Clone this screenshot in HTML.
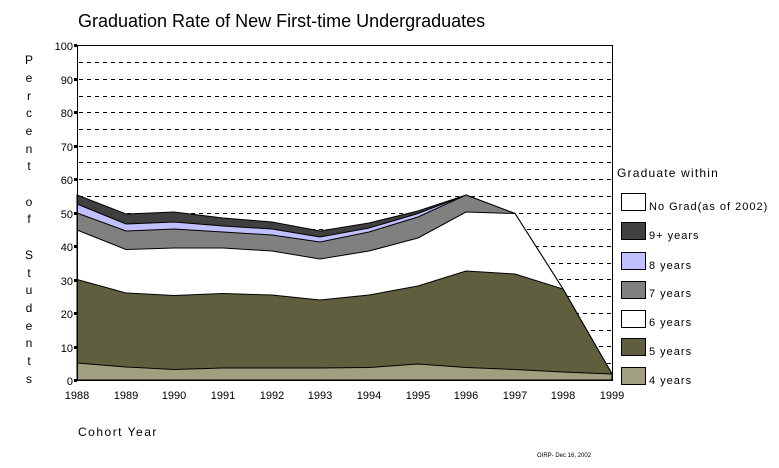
<!DOCTYPE html>
<html><head><meta charset="utf-8"><style>
body{margin:0;background:#fff;}
svg{display:block;font-family:"Liberation Sans",sans-serif;}
</style></head><body>
<svg width="779" height="468" viewBox="0 0 779 468" xmlns="http://www.w3.org/2000/svg">
<rect width="779" height="468" fill="#fff"/>
<text x="78" y="27" font-size="18">Graduation Rate of New First-time Undergraduates</text>
<!-- gridlines -->
<g stroke="#000" stroke-width="1" stroke-dasharray="4,4">
<line x1="79" x2="611" y1="62.5" y2="62.5"/><line x1="79" x2="611" y1="79.5" y2="79.5"/>
<line x1="79" x2="611" y1="96.5" y2="96.5"/><line x1="79" x2="611" y1="112.5" y2="112.5"/>
<line x1="79" x2="611" y1="129.5" y2="129.5"/><line x1="79" x2="611" y1="146.5" y2="146.5"/>
<line x1="79" x2="611" y1="162.5" y2="162.5"/><line x1="79" x2="611" y1="179.5" y2="179.5"/>
<line x1="79" x2="611" y1="196.5" y2="196.5"/><line x1="79" x2="611" y1="213.5" y2="213.5"/>
<line x1="79" x2="611" y1="229.5" y2="229.5"/><line x1="79" x2="611" y1="246.5" y2="246.5"/>
<line x1="79" x2="611" y1="263.5" y2="263.5"/><line x1="79" x2="611" y1="279.5" y2="279.5"/>
<line x1="79" x2="611" y1="296.5" y2="296.5"/><line x1="79" x2="611" y1="313.5" y2="313.5"/>
<line x1="79" x2="611" y1="330.5" y2="330.5"/><line x1="79" x2="611" y1="346.5" y2="346.5"/>
<line x1="79" x2="611" y1="363.5" y2="363.5"/>
</g>
<!-- areas: x = 77 + i*48.64 -->
<g stroke="#000" stroke-width="1">
<polygon fill="#404040" points="77,195 126,214 174,212 223,218 272,222 320,231 369,223 418,211 466,195 515,213.5 563,289 612,374 612,380 77,380"/>
<polygon fill="#c0c0ff" points="77,204 126,224 174,222 223,226 272,229 320,237 369,228 418,213.5 466,195 515,213.5 563,289 612,374 612,380 77,380"/>
<polygon fill="#808080" points="77,213 126,231 174,229 223,232 272,235 320,242 369,232 418,217 466,195 515,213.5 563,289 612,374 612,380 77,380"/>
<polygon fill="#ffffff" points="77,230 126,249.5 174,248 223,248 272,251 320,259 369,251 418,238 466,212 515,213.5 563,289 612,374 612,380 77,380"/>
<polygon fill="#5f5f40" points="77,279.5 126,293 174,295.5 223,293.5 272,295 320,300 369,295 418,286 466,271 515,274 563,289 612,374 612,380 77,380"/>
<polygon fill="#a0a080" points="77,363 126,367 174,369.5 223,368 272,368 320,368 369,367.5 418,364 466,367.5 515,369.5 563,372 612,374 612,380 77,380"/>
</g>
<!-- frame -->
<polyline points="77.5,45.5 612.5,45.5 612.5,380.5" fill="none" stroke="#000"/>
<line x1="77.5" y1="45" x2="77.5" y2="381" stroke="#000"/>
<line x1="77" y1="380.5" x2="613" y2="380.5" stroke="#000"/>
<!-- y ticks/labels -->
<g font-size="11" text-anchor="end">
<text x="73" y="50">100</text><text x="73" y="84">90</text><text x="73" y="117">80</text>
<text x="73" y="151">70</text><text x="73" y="184">60</text><text x="73" y="218">50</text>
<text x="73" y="251">40</text><text x="73" y="285">30</text><text x="73" y="318">20</text>
<text x="73" y="352">10</text><text x="73" y="385">0</text>
</g>
<g fill="#000">
<rect x="74" y="44" width="3" height="3"/><rect x="74" y="78" width="3" height="3"/><rect x="74" y="111" width="3" height="3"/>
<rect x="74" y="145" width="3" height="3"/><rect x="74" y="178" width="3" height="3"/><rect x="74" y="212" width="3" height="3"/>
<rect x="74" y="245" width="3" height="3"/><rect x="74" y="279" width="3" height="3"/><rect x="74" y="312" width="3" height="3"/>
<rect x="74" y="346" width="3" height="3"/><rect x="74" y="379" width="3" height="3"/>
</g>
<!-- x labels -->
<g font-size="11" text-anchor="middle">
<text x="77" y="399">1988</text><text x="126" y="399">1989</text><text x="174" y="399">1990</text>
<text x="223" y="399">1991</text><text x="272" y="399">1992</text><text x="320" y="399">1993</text>
<text x="369" y="399">1994</text><text x="418" y="399">1995</text><text x="466" y="399">1996</text>
<text x="515" y="399">1997</text><text x="563" y="399">1998</text><text x="612" y="399">1999</text>
</g>
<text x="78" y="436" font-size="12" letter-spacing="1.5">Cohort Year</text>
<text x="537" y="457" font-size="6">OIRP- Dec 16, 2002</text>
<!-- y title -->
<g font-size="12" text-anchor="middle">
<text x="29" y="64">P</text><text x="29" y="82">e</text><text x="29" y="100">r</text><text x="29" y="117">c</text>
<text x="29" y="135">e</text><text x="29" y="153">n</text><text x="29" y="170">t</text>
<text x="29" y="206">o</text><text x="29" y="223">f</text>
<text x="29" y="259">S</text><text x="29" y="277">t</text><text x="29" y="294">u</text><text x="29" y="312">d</text>
<text x="29" y="330">e</text><text x="29" y="347">n</text><text x="29" y="365">t</text><text x="29" y="383">s</text>
</g>
<!-- legend -->
<text x="617" y="177" font-size="12" letter-spacing="1.2">Graduate within</text>
<g stroke="#000">
<rect x="621.5" y="193.5" width="24" height="17" fill="#fff"/>
<rect x="621.5" y="222.5" width="24" height="17" fill="#404040"/>
<rect x="621.5" y="252.5" width="24" height="17" fill="#c0c0ff"/>
<rect x="621.5" y="281.5" width="24" height="17" fill="#808080"/>
<rect x="621.5" y="310.5" width="24" height="17" fill="#fff"/>
<rect x="621.5" y="338.5" width="24" height="17" fill="#5f5f40"/>
<rect x="621.5" y="367.5" width="24" height="17" fill="#a0a080"/>
</g>
<g font-size="11" letter-spacing="1">
<text x="649" y="210">No Grad(as of 2002)</text>
<text x="649" y="239">9+ years</text>
<text x="649" y="269">8 years</text>
<text x="649" y="297">7 years</text>
<text x="649" y="326">6 years</text>
<text x="649" y="355">5 years</text>
<text x="649" y="384">4 years</text>
</g>
</svg>
</body></html>
